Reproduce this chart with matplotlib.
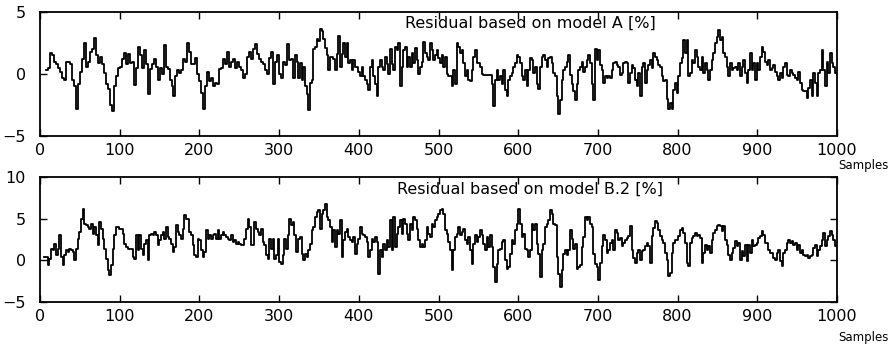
import numpy as np
import matplotlib
matplotlib.use("Agg")
import matplotlib.pyplot as plt

# ---------------- data ----------------
x_ticks = [0, 100, 200, 300, 400, 500, 600, 700, 800, 900, 1000]
yticks_A = [-5, 0, 5]
yticks_B = [-5, 0, 5, 10]
title_A = "Residual based on model A [%]"
title_B = "Residual based on model B.2 [%]"
xlabel = "Samples"

# Residual A, segment 1: samples 7.5 .. 320
A1_range = (7.5, 320.0)
A1_vals = [0.3, 0.5, 1.7, 1.5, 1.0, 0.8, 0.5, 0.2, -0.3, -0.5,
           1.0, 1.0, 0.8, -0.5, -1.0, -2.8, -0.8, 0.2, 1.2, 2.5,
           0.6, 1.0, 1.8, 2.0, 2.9, 1.5, 0.9, 1.4, 0.8, 0.1,
           -0.8, -1.2, -2.5, -3.0, -1.0, -0.2, 0.5, 0.6, 1.2, 1.7,
           0.8, 1.6, 0.9, 1.0, -0.9, 0.5, 2.2, 1.5, 0.5, 1.9,
           0.8, -1.6, 0.4, 0.8, 1.2, 0.6, -0.5, 0.5, 0.0, 2.3,
           0.6, 0.4, -0.5, -1.0, -1.8, -0.2, 0.3, 0.1, 0.3, 1.2,
           1.0, 2.5, 1.8, 0.8, 0.8, 1.3, 0.0, -0.6, -1.5, -2.8,
           -1.0, 0.2, -0.6, -0.3, -1.0, -0.7, -0.8, 0.4, 0.5, 1.2,
           0.8, 1.8, 0.6, 1.0, 1.2, 0.5, 1.0, 0.6, 0.3, -0.3,
           0.0, 1.4, 1.8, 1.2, 2.0, 2.4, 1.6, 1.2, 1.0, 0.8,
           0.3, 0.0, 1.3, 1.8, -0.8, 1.0, 1.5, 0.0, -0.3, 1.0,
           0.7, 2.4, 1.1, 1.2, -0.3, 1.5]

# Residual A, segment 2: samples 322 .. 698
A2_range = (322.1, 698.3)
A2_vals = [1.0, -0.3, 0.9, -0.5, 0.6, -1.0, -1.6, -2.9, -0.7, -0.5,
           2.0, 2.2, 2.8, 2.7, 3.6, 3.5, 2.8, 2.1, 1.5, 0.3,
           1.4, 1.4, 1.2, 0.3, 1.6, 3.1, 0.6, 1.6, 2.5, 1.4,
           2.5, 0.9, 1.1, 0.3, 1.1, 0.6, 0.6, 0.2, -0.2, 0.6,
           -0.2, -0.5, -0.8, -1.3, 0.6, 1.1, -0.2, -0.8, -1.8, 0.6,
           1.1, 0.6, 0.3, 1.4, 0.8, 0.0, 2.0, 0.8, 0.3, 2.2,
           1.9, 2.5, -1.0, 0.6, 1.9, 2.2, 0.6, 1.4, 0.6, 1.7,
           0.9, 2.1, 1.1, 0.0, 0.6, 1.0, 2.6, 1.7, 1.4, 1.1,
           2.5, 1.9, 1.1, 1.5, 1.9, 1.3, 0.9, 1.5, 0.6, 1.4,
           0.0, -0.2, -0.2, -1.0, 0.3, -0.8, 2.5, 2.2, 1.7, 1.9,
           0.9, -0.2, 0.3, -0.5, -0.6, 0.3, 1.4, 1.9, 0.9, 0.9,
           0.6, 0.0, -0.1, -0.1, -0.1, -0.1, -0.1, -0.8, -2.6, -0.5,
           0.3, -0.5, -0.2, -0.8, 0.3, -1.3, -1.8, -0.5, -0.2, 0.1,
           0.6, 0.9, 1.5, 1.4, 0.9, -0.2, -0.5, 0.3, -1.0, 0.3,
           1.3, 1.1, 0.1, 0.6, -0.8, -1.2, 0.6, 1.4, 1.5, 1.1,
           0.6, 1.3, 1.4, 0.9, 0.1, -0.2, -1.8, -3.2, -2.1, -0.5,
           0.3, 0.6, 1.0, 1.5, -0.1, -0.8, -1.4, -2.1, -0.8, 0.3,
           0.6, 1.0, 0.2, 0.6, 1.1, 1.5, 0.9, -0.8, -2.1, 2.0,
           1.1]

# Residual A, segment 3: samples 700 .. 1000
A3_range = (700.5, 999.6)
A3_vals = [1.95, 0.75, 0.35, -0.72, -0.19, -0.32, -0.19, -0.32, 0.35, 0.88,
           1.0, 0.75, 0.6, -0.05, 0.1, 0.9, 1.0, 0.9, -0.7, 0.1,
           0.75, 0.5, -0.45, -1.0, 0.1, -1.8, 0.6, 0.9, -0.7, 0.35,
           0.75, 1.15, 0.5, 1.7, 1.4, 1.15, 0.75, 0.6, -0.2, -0.6,
           -0.45, -2.05, -2.85, -2.3, -2.85, -1.25, -0.7, -1.5, -0.2, 0.9,
           1.3, 2.75, 1.7, 2.75, -0.2, 0.1, 1.15, 0.9, 1.95, 1.4,
           0.6, 0.35, 1.4, 0.1, 0.9, 0.35, -0.45, 0.35, 1.15, 1.7,
           2.5, 3.0, 3.55, 2.75, 3.0, 1.7, 1.4, 0.6, -0.2, 0.9,
           0.35, 0.5, 0.6, 0.35, 0.9, -0.2, 0.6, 1.15, 0.1, -0.7,
           0.35, 1.7, 0.35, 0.9, -0.45, 0.9, 0.35, 1.4, 2.2, 1.8,
           1.0, 0.75, 1.15, 0.35, 0.5, 0.75, 0.2, -0.2, -0.45, 0.1,
           -0.3, 0.6, 0.9, -0.05, -0.2, 0.35, 0.1, -0.05, -0.3, -0.45,
           0.2, -0.7, -1.25, -1.4, -1.4, -1.9, -1.1, -0.45, -1.8, 0.1,
           -0.7, -1.8, 0.1, 0.35, 1.95, 0.35, -1.0, 1.0, 0.1, 1.7,
           0.9, 0.6, 0.1, -0.05]

# Residual B.2, segment 1: samples 5 .. 323
B1_range = (5.4, 323.4)
B1_vals = [0.4, 0.4, -0.6, 0.2, 1.4, 1.2, 2.0, 0.6, 1.4, 3.0,
           0.4, -0.6, 0.6, 1.2, 1.0, 1.4, 1.2, 1.0, 0.0, 1.4,
           2.6, 3.4, 5.0, 6.2, 4.4, 4.2, 4.0, 3.8, 4.4, 3.2,
           4.0, 3.0, 1.8, 4.6, 3.8, 2.6, 1.4, 0.2, -1.2, -1.8,
           -0.6, 1.4, 3.0, 4.0, 4.0, 3.8, 3.8, 3.2, 2.0, 1.6,
           1.4, 1.4, 1.4, 0.4, 0.2, 3.0, 1.2, 3.0, 1.4, 0.6,
           2.0, 2.4, 0.0, 3.0, 3.2, 3.0, 3.4, 3.0, 1.8, 2.4,
           3.0, 3.4, 2.6, 4.0, 2.8, 2.6, 2.0, 1.0, 1.6, 4.2,
           3.4, 3.0, 2.6, 3.8, 5.4, 5.0, 5.0, 3.4, 3.0, 1.8,
           0.6, 0.4, 2.6, 2.4, 1.2, 0.4, 1.0, 3.6, 2.6, 3.0,
           2.6, 3.0, 3.2, 2.6, 3.6, 2.6, 3.0, 3.4, 3.0, 2.8,
           2.6, 2.4, 3.0, 2.2, 2.4, 2.0, 2.2, 2.0, 1.8, 1.8,
           2.6, 3.8, 5.0, 4.0, 1.8, 1.8, 4.6, 3.8, 3.4, 3.0,
           3.8, 2.2, 1.8, 0.6, 0.2, 2.6, 1.4, 2.6, 0.2, 0.6,
           2.6, -0.2, -0.4, 0.6, 2.6, 1.4, 3.0, 5.0, 4.2, 4.6,
           3.0, 1.0, 2.6]

# Residual B.2, segment 2: samples 326 .. 698
B2_range = (326.2, 698.3)
B2_vals = [2.8, 0.8, 0.0, 0.8, 0.4, 1.2, 2.0, 3.6, 4.0, 5.2,
           5.8, 6.0, 3.8, 5.6, 6.0, 6.8, 5.2, 4.8, 4.0, 2.2,
           3.6, 1.6, 3.6, 3.2, 4.8, 0.4, 2.4, 3.4, 3.8, 2.8,
           2.4, 2.2, 2.8, 0.8, 2.0, 2.6, 4.0, 3.2, 3.0, 2.8,
           2.2, 0.4, 1.2, 2.6, 2.2, 2.8, 2.2, -1.6, 1.2, 0.4,
           2.0, 1.2, 2.4, 1.6, 4.8, 1.2, 5.2, 1.6, 3.2, 4.0,
           4.8, 3.2, 5.0, 4.4, 3.2, 2.4, 4.4, 3.6, 5.2, 4.8,
           3.8, 2.4, 1.6, 2.0, 1.6, 2.4, 4.0, 3.2, 2.8, 4.4,
           4.0, 4.8, 5.2, 5.6, 6.0, 6.2, 5.6, 3.6, 3.2, 2.2,
           1.2, -1.2, 1.2, 2.8, 3.2, 4.0, 3.0, 3.4, 3.8, 2.4,
           2.0, 2.8, 1.2, -0.4, 2.0, 3.0, 2.2, 2.8, 3.6, 3.0,
           2.0, 1.2, 2.8, 1.6, 3.0, 1.6, -0.8, -2.6, -0.4, 1.2,
           1.4, 2.2, 2.4, 0.0, -1.0, -0.8, 0.8, 2.4, 2.0, 3.6,
           4.4, 6.2, 4.4, 2.8, 3.2, 1.4, 1.2, 0.4, 1.2, 4.4,
           3.6, 4.4, 2.0, 0.8, -2.0, 1.2, 2.0, 4.0, 4.4, 4.8,
           6.0, 5.6, 4.4, 4.2, 0.4, -1.6, -3.2, -1.2, 0.8, 1.2,
           0.6, 1.2, 3.6, 2.6, 1.4, 2.0, -1.0, -0.8, -0.6, 1.6,
           2.8, 5.2, 4.8, 5.2, 4.4, 4.0, 0.8, -0.4, -0.8]

# Residual B.2, segment 3: samples 700 .. 1000
B3_range = (700.5, 999.6)
B3_vals = [-2.3, -0.3, 1.7, 3.1, 2.5, 0.9, 1.3, 2.1, 2.5, 1.3,
           3.7, 3.3, 2.5, 2.7, 1.7, 2.1, 2.5, 2.7, 2.9, 4.1,
           1.3, 0.3, -0.3, 0.9, 1.3, 0.1, 1.1, 1.3, 1.7, 2.1,
           1.7, -0.3, 2.9, 3.9, 4.7, 4.5, 3.7, 2.9, 2.5, 2.1,
           0.9, 0.1, -1.9, -1.5, 0.9, 2.1, 2.5, 2.5, 2.9, 3.7,
           3.9, 3.3, 2.1, -0.3, -0.7, 2.1, 2.7, 2.9, 3.3, 2.9,
           3.1, 2.7, -0.3, 0.9, 1.9, 1.3, 1.7, 0.9, 2.5, 3.3,
           3.7, 4.1, 4.3, 4.1, 3.5, 4.1, 2.5, 1.9, 0.7, 0.1,
           0.9, 1.5, 2.3, 1.7, 2.1, 0.1, 1.1, 0.5, 1.9, -0.1,
           1.9, 0.9, 2.5, 1.7, 1.9, 2.1, 2.7, 2.9, 3.5, 3.1,
           2.1, 2.1, 1.3, 0.9, 0.9, 0.3, 0.1, 0.9, 1.3, -0.1,
           -0.7, 0.9, 1.3, 2.1, 2.5, 2.1, 2.3, 1.9, 2.1, 1.3,
           1.9, 0.9, 1.3, 0.7, 0.5, 0.7, 0.3, 0.5, 0.7, 1.5,
           1.9, 0.5, 1.3, 1.7, 2.5, 3.3, 1.7, 2.5, 2.9, 3.5,
           3.1, 2.5, 1.7, 1.7]


def build(segments):
    xs, ys = [], []
    for (a, b), vals in segments:
        xs.append(np.linspace(a, b, len(vals)))
        ys.append(np.asarray(vals, dtype=float))
    return np.concatenate(xs), np.concatenate(ys)


xA, yA = build([(A1_range, A1_vals), (A2_range, A2_vals), (A3_range, A3_vals)])
xB, yB = build([(B1_range, B1_vals), (B2_range, B2_vals), (B3_range, B3_vals)])

# ---------------- figure ----------------
plt.rcParams['font.family'] = ['DejaVu Sans']
W, H = 891, 348
fig = plt.figure(figsize=(W / 100, H / 100), dpi=100)

def px_axes(left, top, right, bottom):
    return fig.add_axes([left / W, 1 - bottom / H, (right - left) / W, (bottom - top) / H])

axA = px_axes(40, 12, 837, 136)
axB = px_axes(40, 177, 837, 302)

for ax, x, y, yt, ylim, title, right_ticks in [
        (axA, xA, yA, yticks_A, (-5, 5), title_A, False),
        (axB, xB, yB, yticks_B, (-5, 10), title_B, True)]:
    ax.plot(x, y, drawstyle='steps-post', color='black', lw=1.3)
    ax.set_xlim(0, 1000)
    ax.set_ylim(*ylim)
    ax.set_xticks(x_ticks)
    ax.set_yticks(yt)
    ax.tick_params(direction='in', length=5, width=1.0, top=True,
                   right=right_ticks, labelsize=11.5, colors='black')
    ax.tick_params(axis='x', pad=5)
    ax.tick_params(axis='y', pad=10)
    for sp in ax.spines.values():
        sp.set_linewidth(1.3)
        sp.set_color('black')
    ax.text(0.615, 0.905, title, transform=ax.transAxes, ha='center',
            va='center', fontsize=11.5)

fig.text(889 / W, 1 - 166 / H, xlabel, ha='right', va='center', fontsize=8.5)
fig.text(889 / W, 1 - 337 / H, xlabel, ha='right', va='center', fontsize=8.5)

fig.savefig("out.png", dpi=100)
